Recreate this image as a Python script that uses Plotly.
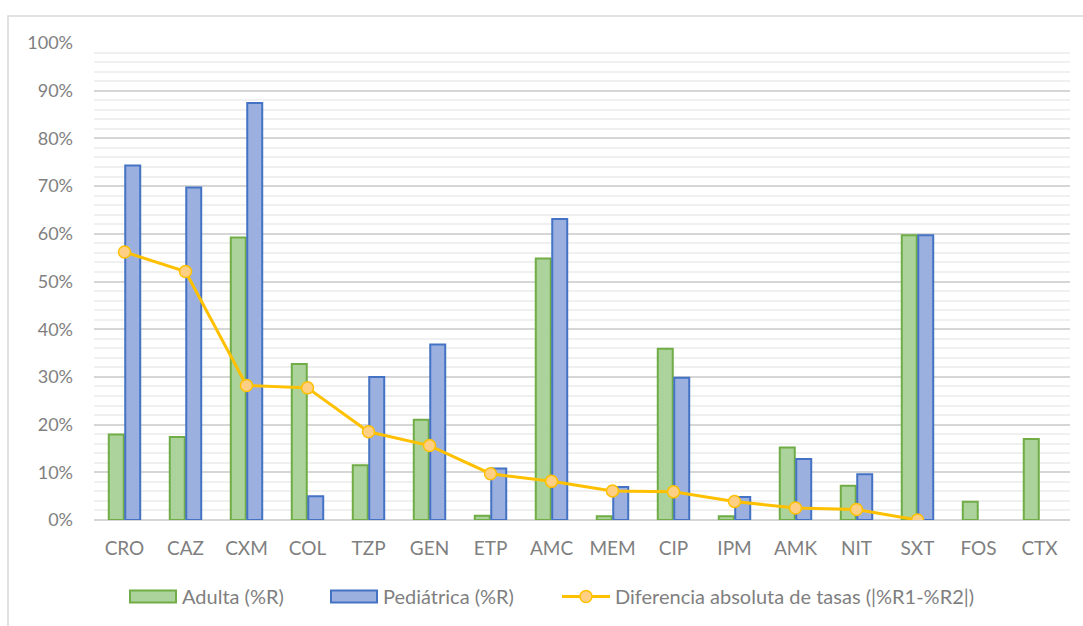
import plotly.graph_objects as go

# Antibiotic codes on the category axis
antibioticos = ["CRO", "CAZ", "CXM", "COL", "TZP", "GEN", "ETP", "AMC",
                "MEM", "CIP", "IPM", "AMK", "NIT", "SXT", "FOS", "CTX"]

# Resistance rates (fraction of isolates resistant)
adulta = [0.179, 0.174, 0.592, 0.327, 0.115, 0.210, 0.009, 0.548,
          0.008, 0.359, 0.008, 0.152, 0.072, 0.597, 0.038, 0.170]
pediatrica = [0.743, 0.697, 0.874, 0.050, 0.300, 0.368, 0.108, 0.631,
              0.069, 0.298, 0.048, 0.128, 0.096, 0.597, None, None]
diferencia = [0.562, 0.521, 0.282, 0.277, 0.185, 0.156, 0.097, 0.081,
              0.061, 0.059, 0.039, 0.025, 0.022, 0.000, None, None]

y_ticks = [0, 0.1, 0.2, 0.3, 0.4, 0.5, 0.6, 0.7, 0.8, 0.9, 1.0]

nombres = ["Adulta (%R)", "Pediátrica (%R)",
           "Diferencia absoluta de tasas (|%R1-%R2|)"]

FONT = "Lato, 'Open Sans', sans-serif"
TXT = "#7f7f7f"
VERDE, VERDE_BORDE = "#acd39b", "#70ad47"
AZUL, AZUL_BORDE = "#9cb0e0", "#4472c4"
ORO, ORO_CLARO = "#ffc000", "#ffd084"

W, H = 1083, 626
M_L, M_R, M_T, M_B = 94, 13, 43, 105.5
PW, PH = W - M_L - M_R, H - M_T - M_B


def px_x(px):
    """Pixel column -> paper x (relative to the plot area)."""
    return (px - M_L) / PW


def px_y(py):
    """Pixel row -> paper y (relative to the plot area)."""
    return (H - M_B - py) / PH


fig = go.Figure()

fig.add_trace(go.Bar(
    x=antibioticos, y=adulta, name=nombres[0],
    marker=dict(color=VERDE, line=dict(color=VERDE_BORDE, width=2)),
))
fig.add_trace(go.Bar(
    x=antibioticos, y=pediatrica, name=nombres[1],
    marker=dict(color=AZUL, line=dict(color=AZUL_BORDE, width=2)),
))
fig.add_trace(go.Scatter(
    x=antibioticos, y=diferencia, name=nombres[2],
    mode="lines+markers",
    line=dict(color=ORO, width=3),
    marker=dict(size=12, color=ORO_CLARO, line=dict(color=ORO, width=1.5)),
    connectgaps=False,
))

# Legend drawn below the plot: wide swatches like a spreadsheet chart
ly = 597
shapes = [
    # outer chart frame
    dict(type="rect", xref="paper", yref="paper",
         x0=px_x(8), x1=1.03, y0=-0.3, y1=px_y(16),
         line=dict(color="#d9d9d9", width=1.5), fillcolor="rgba(0,0,0,0)",
         layer="below"),
    dict(type="rect", xref="paper", yref="paper",
         x0=px_x(130), x1=px_x(176), y0=px_y(603), y1=px_y(591),
         line=dict(color=VERDE_BORDE, width=2), fillcolor=VERDE),
    dict(type="rect", xref="paper", yref="paper",
         x0=px_x(331), x1=px_x(377), y0=px_y(603), y1=px_y(591),
         line=dict(color=AZUL_BORDE, width=2), fillcolor=AZUL),
    dict(type="line", xref="paper", yref="paper",
         x0=px_x(562), x1=px_x(610), y0=px_y(ly), y1=px_y(ly),
         line=dict(color=ORO, width=3)),
    dict(type="circle", xref="paper", yref="paper",
         x0=px_x(580), x1=px_x(592), y0=px_y(ly + 6), y1=px_y(ly - 6),
         line=dict(color=ORO, width=1.5), fillcolor=ORO_CLARO),
]
annotations = [
    dict(text=t, xref="paper", yref="paper", x=px_x(x0), y=px_y(ly),
         xanchor="left", yanchor="middle", showarrow=False,
         font=dict(family=FONT, size=20, color=TXT))
    for t, x0 in zip(nombres, [180, 381, 613])
]

fig.update_layout(
    width=W, height=H,
    margin=dict(l=M_L, r=M_R, t=M_T, b=M_B),
    paper_bgcolor="white", plot_bgcolor="white",
    barmode="group", bargap=0.46, bargroupgap=0.09,
    font=dict(family=FONT, size=18, color=TXT),
    showlegend=False,
    xaxis=dict(
        range=[-0.5, len(antibioticos) - 0.5],
        showgrid=False, showline=False, ticks="",
        tickfont=dict(family=FONT, size=19, color=TXT),
        ticklabelstandoff=15,
    ),
    yaxis=dict(
        range=[0, 1], tickvals=y_ticks, tickformat=".0%",
        showgrid=True, gridcolor="#d6d6d6", gridwidth=2,
        zeroline=True, zerolinecolor="#d6d6d6", zerolinewidth=2,
        showline=False, ticks="",
        minor=dict(dtick=0.02, showgrid=True, gridcolor="#f0f0f0", gridwidth=2),
        tickfont=dict(family=FONT, size=18, color=TXT),
        ticklabelstandoff=20,
    ),
    shapes=shapes,
    annotations=annotations,
)

fig.write_html("out.html")
